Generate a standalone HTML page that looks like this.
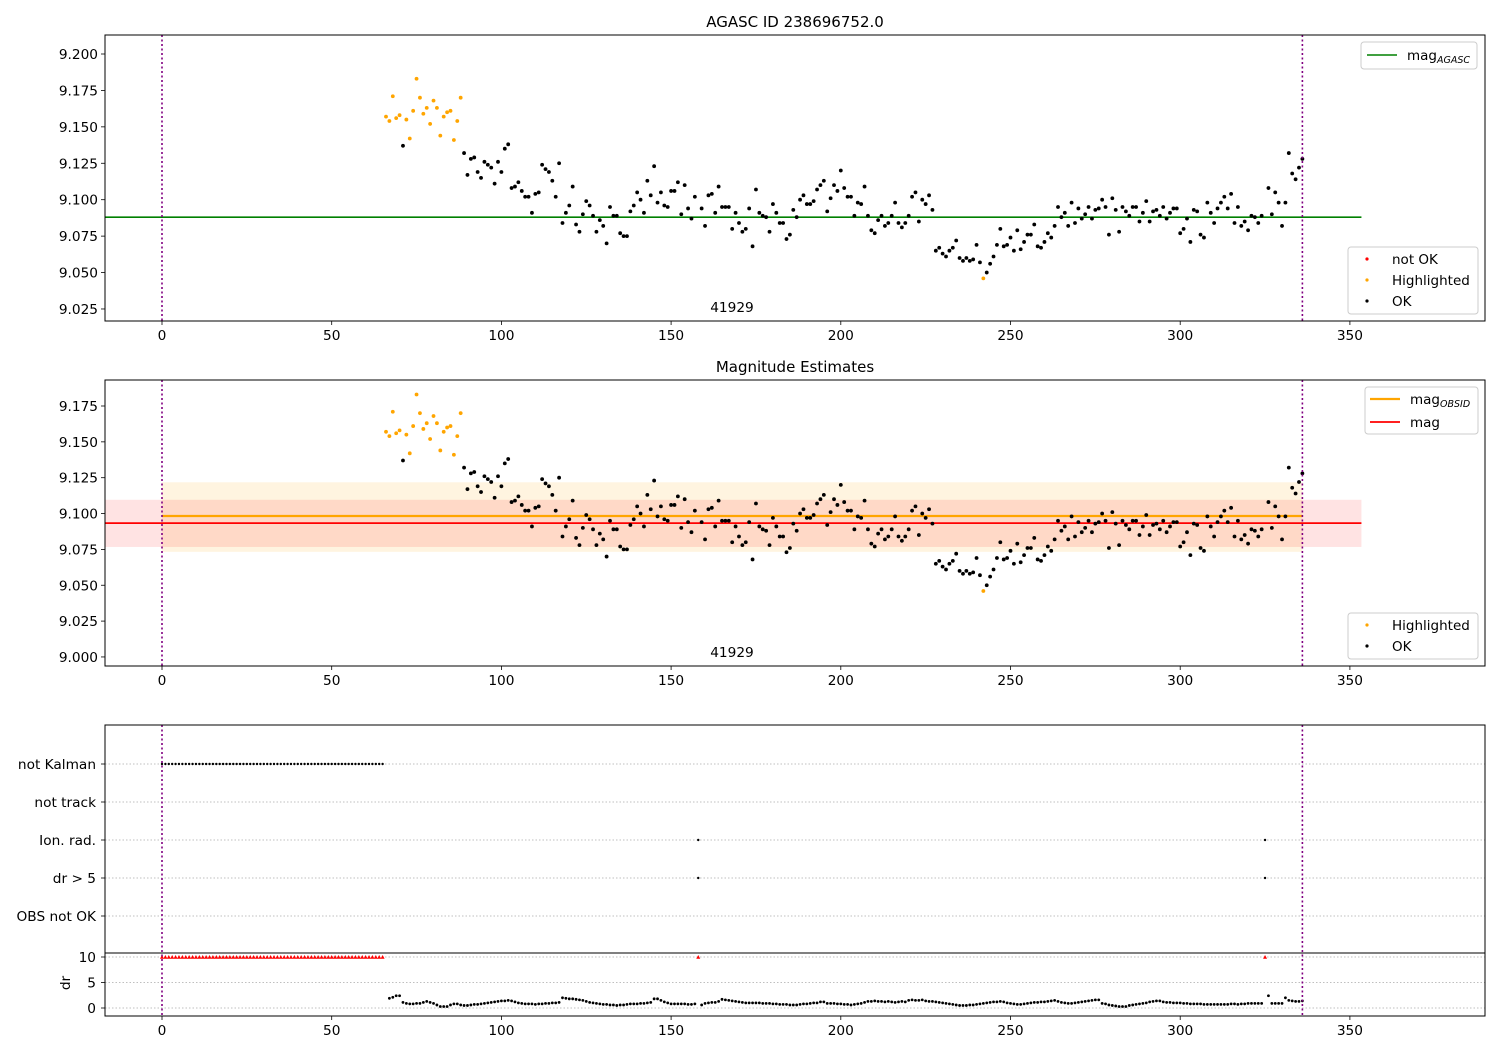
<!DOCTYPE html>
<html><head><meta charset="utf-8"><style>
body{margin:0;background:#fff}
svg{display:block;font-family:"DejaVu Sans","Liberation Sans",sans-serif}
</style></head><body>
<svg id="chart" width="1500" height="1050" viewBox="0 0 1500 1050" xmlns="http://www.w3.org/2000/svg"></svg>
<script>
// ---- data ----
const hlDays = [66,67,68,69,70,72,73,74,75,76,77,78,79,80,81,82,83,84,85,86,87,88,242];
const hlMags = [9.157,9.154,9.171,9.156,9.158,9.155,9.142,9.161,9.183,9.170,9.159,9.163,9.152,9.168,9.163,9.144,9.157,9.160,9.161,9.141,9.154,9.170,9.046];
const okFirstDay = 89;
const okExtraDays = [71];
const okExtraMags = [9.137];
const okMags = [
9.132,9.117,9.128,9.129,9.119,9.115,9.126,9.124,9.122,9.111,9.126,
9.119,9.135,9.138,9.108,9.109,9.112,9.106,9.102,9.102,9.091,
9.104,9.105,9.124,9.121,9.119,9.113,9.102,9.125,9.084,9.091,
9.096,9.109,9.083,9.078,9.090,9.099,9.096,9.089,9.078,9.086,
9.082,9.070,9.095,9.089,9.089,9.077,9.075,9.075,9.092,9.096,
9.105,9.100,9.091,9.113,9.103,9.123,9.098,9.105,9.096,9.095,
9.106,9.106,9.112,9.090,9.110,9.094,9.087,9.102,null,9.094,
9.082,9.103,9.104,9.091,9.109,9.095,9.095,9.095,9.080,9.091,
9.084,9.078,9.080,9.094,9.068,9.107,9.091,9.089,9.088,9.078,
9.097,9.091,9.084,9.084,9.073,9.076,9.093,9.088,9.100,9.103,
9.097,9.097,9.099,9.107,9.110,9.113,9.092,9.101,9.110,9.106,
9.120,9.108,9.102,9.102,9.089,9.098,9.097,9.109,9.089,9.079,
9.077,9.086,9.089,9.082,9.084,9.089,9.098,9.084,9.081,9.084,
9.089,9.102,9.105,9.085,9.100,9.097,9.103,9.093,9.065,9.067,
9.063,9.061,9.065,9.067,9.072,9.060,9.058,9.060,9.058,9.059,
9.069,9.057,null,9.050,9.056,9.061,9.069,9.080,9.068,9.069,
9.074,9.065,9.079,9.066,9.071,9.076,9.076,9.083,9.068,9.067,
9.071,9.077,9.074,9.082,9.095,9.088,9.091,9.082,9.098,9.084,
9.094,9.087,9.090,9.095,9.087,9.093,9.094,9.100,9.095,9.076,
9.101,9.093,9.078,9.095,9.092,9.089,9.095,9.095,9.085,9.091,
9.099,9.085,9.092,9.093,9.089,9.095,9.087,9.091,9.094,9.094,
9.077,9.080,9.087,9.071,9.093,9.092,9.076,9.074,9.098,9.091,
9.084,9.094,9.098,9.102,9.094,9.104,9.084,9.095,9.082,9.085,
9.079,9.089,9.088,9.084,9.089,null,9.108,9.090,9.105,9.098,
9.082,9.098,9.132,9.118,9.114,9.122,9.128];
const magAgasc = 9.088;
const magObsid = 9.0983, magObsidLo = 9.0733, magObsidHi = 9.1218;
const magMean = 9.0933, magLo = 9.0767, magHi = 9.1096;
const drFirstDay = 67;
const drVals = [
1.9,2.1,2.4,2.4,1.1,0.9,0.8,0.8,0.9,0.9,
1.1,1.3,1.1,0.9,0.6,0.3,0.3,0.3,0.6,0.8,
0.8,0.6,0.5,0.5,0.6,0.7,0.7,0.8,0.9,1.0,
1.1,1.2,1.3,1.4,1.4,1.5,1.4,1.2,1.0,0.9,
0.8,0.8,0.8,0.7,0.8,0.8,0.9,0.9,1.0,1.0,
1.1,2.0,1.9,1.8,1.8,1.7,1.6,1.5,1.3,1.1,
1.0,0.9,0.8,0.7,0.7,0.6,0.6,0.5,0.6,0.6,
0.7,0.8,0.8,0.8,0.9,0.9,1.0,1.1,1.8,1.8,
1.5,1.2,1.0,0.8,0.8,0.8,0.8,0.8,0.7,0.7,
0.8,null,0.6,0.9,1.0,1.1,1.1,1.3,1.7,1.6,
1.5,1.4,1.3,1.2,1.1,1.0,1.0,1.0,1.0,1.0,
0.9,0.9,0.9,0.8,0.8,0.7,0.7,0.7,0.6,0.6,
0.6,0.7,0.8,0.8,0.9,1.0,1.0,1.2,1.2,0.9,
0.9,0.9,0.8,0.8,0.7,0.7,0.6,0.7,0.8,0.9,
1.1,1.3,1.3,1.4,1.3,1.3,1.2,1.3,1.2,1.1,
1.2,1.3,1.2,1.5,1.6,1.5,1.5,1.6,1.4,1.3,
1.3,1.2,1.1,1.0,0.9,0.8,0.7,0.6,0.5,0.5,
0.5,0.6,0.6,0.7,0.8,0.9,1.0,1.1,1.2,1.2,
1.3,1.2,1.0,0.9,0.8,0.7,0.7,0.8,0.9,1.0,
1.1,1.1,1.2,1.2,1.3,1.4,1.5,1.3,1.1,1.0,
0.9,0.9,1.0,1.1,1.2,1.3,1.4,1.5,1.6,1.6,
0.9,0.8,0.6,0.5,0.4,0.3,0.3,0.3,0.5,0.6,
0.7,0.8,0.9,1.0,1.2,1.3,1.4,1.4,1.2,1.1,
1.1,1.0,1.0,1.0,0.9,0.9,0.8,0.8,0.8,0.8,
0.7,0.7,0.7,0.7,0.7,0.7,0.7,0.7,0.8,0.8,
0.7,0.8,0.8,0.9,0.9,0.9,0.9,0.9,null,2.4,
0.9,0.9,0.9,0.9,2.0,1.5,1.4,1.3,1.3,1.4];
const notKalmanDays = [0,1,2,3,4,5,6,7,8,9,10,11,12,13,14,15,16,17,18,19,20,21,22,23,24,25,26,27,28,29,30,31,32,33,34,35,36,37,38,39,40,41,42,43,44,45,46,47,48,49,50,51,52,53,54,55,56,57,58,59,60,61,62,63,64,65];
const ionRadDays = [158,325];
const drGt5Days = [158,325];
const drClipDays = notKalmanDays.concat([158,325]);
const drClipValue = 10;
const flagLabels = ["not Kalman","not track","Ion. rad.","dr > 5","OBS not OK"];
const xTicks = [0,50,100,150,200,250,300,350];
const y1Ticks = [9.025,9.050,9.075,9.100,9.125,9.150,9.175,9.200];
const y2Ticks = [9.000,9.025,9.050,9.075,9.100,9.125,9.150,9.175];
const drTicks = [0,5,10];
const vLines = [0,336];

// ---- scales ----
const L=105,R=1485;
const FS=13.7;
const X = d => 162 + d*3.394;
const Y1 = v => 54 + (9.2 - v)*1457;
const Y2 = v => 406 + (9.175 - v)*1434;
const YDR = v => 1008 - v*5.1;
const rowY = i => 764 + i*38;

const svg=document.getElementById('chart');
const NS='http://www.w3.org/2000/svg';
function el(tag,attrs,parent,text){const e=document.createElementNS(NS,tag);for(const k in attrs)e.setAttribute(k,attrs[k]);if(text!==undefined)e.textContent=text;(parent||svg).appendChild(e);return e;}

function okSeries(){
  const out=[];
  okExtraDays.forEach((d,i)=>out.push([d,okExtraMags[i]]));
  okMags.forEach((m,i)=>{if(m!==null)out.push([okFirstDay+i,m]);});
  return out;
}

function xAxis(bottom,g){
  xTicks.forEach(t=>{
    el('line',{x1:X(t),x2:X(t),y1:bottom,y2:bottom+4,stroke:'#000','stroke-width':0.8},g);
    const tx=el('text',{x:X(t),y:bottom+19,'text-anchor':'middle','font-size':FS},g,String(t));
    
    
  });
}
function yAxis(ticks,Y,g,fmt){
  ticks.forEach(t=>{
    el('line',{x1:L-4,x2:L,y1:Y(t),y2:Y(t),stroke:'#000','stroke-width':0.8},g);
    const tx=el('text',{x:L-7,y:Y(t)+5,'text-anchor':'end','font-size':FS},g,fmt(t));
    
    
  });
}
function vlines(top,bottom,g){
  vLines.forEach(d=>el('line',{x1:X(d),x2:X(d),y1:top,y2:bottom,stroke:'#800080','stroke-width':1.6,'stroke-dasharray':'2,2.5'},g));
}
function dot(x,y,c,g,r){el('circle',{cx:x,cy:y,r:r||1.9,fill:c},g);}

// ---- panel 1 ----
(function(){
  const g=el('g',{});
  
  
  const t=el('text',{x:795,y:27,'text-anchor':'middle','font-size':15},g,'AGASC ID 238696752.0');
  
  
  el('line',{x1:L,x2:X(353.4),y1:Y1(magAgasc),y2:Y1(magAgasc),stroke:'#008000','stroke-width':1.6},g);
  hlDays.forEach((d,i)=>dot(X(d),Y1(hlMags[i]),'#ffa500',g));
  okSeries().forEach(p=>dot(X(p[0]),Y1(p[1]),'#000',g));
  vlines(35,321,g);
  el('text',{x:732,y:312,'text-anchor':'middle','font-size':FS},g,'41929');
  el('rect',{x:L,y:35,width:R-L,height:286,fill:'none',stroke:'#000','stroke-width':1},g);
  xAxis(321,g); yAxis(y1Ticks,Y1,g,v=>v.toFixed(3));
  const lg=el('g',{},g);
  
  
  el('rect',{x:1361,y:42,width:116,height:27,rx:3,fill:'#fff',stroke:'#ccc'},lg);
  el('line',{x1:1367,x2:1397,y1:55,y2:55,stroke:'#008000','stroke-width':1.6},lg);
  const tt=el('text',{x:1407,y:60,'font-size':13.5},lg,'mag');
  el('tspan',{'font-size':9.5,'font-style':'italic',dy:3},tt,'AGASC');
  const lg2=el('g',{},g);
  
  
  el('rect',{x:1348,y:247,width:130,height:67,rx:3,fill:'#fff',stroke:'#ccc'},lg2);
  [['not OK','#ff0000',259],['Highlighted','#ffa500',280],['OK','#000',301]].forEach(e=>{
    dot(1367,e[2],e[1],lg2,1.6);
    el('text',{x:1392,y:e[2]+5,'font-size':13.5},lg2,e[0]);
  });
})();

// ---- panel 2 ----
(function(){
  const g=el('g',{});
  
  
  const t=el('text',{x:795,y:372,'text-anchor':'middle','font-size':15},g,'Magnitude Estimates');
  
  
  el('rect',{x:X(0),y:Y2(magObsidHi),width:X(336)-X(0),height:Y2(magObsidLo)-Y2(magObsidHi),fill:'#ffa500','fill-opacity':0.12},g);
  el('rect',{x:L,y:Y2(magHi),width:X(353.4)-L,height:Y2(magLo)-Y2(magHi),fill:'#ff0000','fill-opacity':0.11},g);
  el('line',{x1:X(0),x2:X(336),y1:Y2(magObsid),y2:Y2(magObsid),stroke:'#ffa500','stroke-width':2.2},g);
  el('line',{x1:L,x2:X(353.4),y1:Y2(magMean),y2:Y2(magMean),stroke:'#ff0000','stroke-width':1.8},g);
  hlDays.forEach((d,i)=>dot(X(d),Y2(hlMags[i]),'#ffa500',g));
  okSeries().forEach(p=>dot(X(p[0]),Y2(p[1]),'#000',g));
  vlines(380,666,g);
  el('text',{x:732,y:657,'text-anchor':'middle','font-size':FS},g,'41929');
  el('rect',{x:L,y:380,width:R-L,height:286,fill:'none',stroke:'#000','stroke-width':1},g);
  xAxis(666,g); yAxis(y2Ticks,Y2,g,v=>v.toFixed(3));
  const lg=el('g',{},g);
  
  
  el('rect',{x:1365,y:387,width:113,height:47,rx:3,fill:'#fff',stroke:'#ccc'},lg);
  el('line',{x1:1370,x2:1400,y1:399,y2:399,stroke:'#ffa500','stroke-width':2.2},lg);
  const tt=el('text',{x:1410,y:404,'font-size':13.5},lg,'mag');
  el('tspan',{'font-size':9.5,'font-style':'italic',dy:3},tt,'OBSID');
  el('line',{x1:1370,x2:1400,y1:422,y2:422,stroke:'#ff0000','stroke-width':1.8},lg);
  el('text',{x:1410,y:427,'font-size':13.5},lg,'mag');
  const lg2=el('g',{},g);
  
  
  el('rect',{x:1348,y:613,width:130,height:46,rx:3,fill:'#fff',stroke:'#ccc'},lg2);
  [['Highlighted','#ffa500',625],['OK','#000',646]].forEach(e=>{
    dot(1367,e[2],e[1],lg2,1.6);
    el('text',{x:1392,y:e[2]+5,'font-size':13.5},lg2,e[0]);
  });
})();

// ---- panel 3 ----
(function(){
  const g=el('g',{});
  
  
  flagLabels.forEach((lab,i)=>{
    el('line',{x1:L,x2:R,y1:rowY(i),y2:rowY(i),stroke:'#aaa','stroke-width':0.8,'stroke-dasharray':'1.5,2'},g);
    el('line',{x1:L-4,x2:L,y1:rowY(i),y2:rowY(i),stroke:'#000','stroke-width':0.8},g);
    const tx=el('text',{x:L-9,y:rowY(i)+5,'text-anchor':'end','font-size':FS},g,lab);
    
    
  });
  drTicks.forEach(t=>{
    el('line',{x1:L,x2:R,y1:YDR(t),y2:YDR(t),stroke:'#aaa','stroke-width':0.8,'stroke-dasharray':'1.5,2'},g);
    el('line',{x1:L-4,x2:L,y1:YDR(t),y2:YDR(t),stroke:'#000','stroke-width':0.8},g);
    el('text',{x:L-9,y:YDR(t)+5,'text-anchor':'end','font-size':FS},g,String(t));
  });
  const yl=el('text',{x:70,y:983,'text-anchor':'middle','font-size':FS,transform:'rotate(-90 70 983)'},g,'dr');
  
  
  notKalmanDays.forEach(d=>dot(X(d),rowY(0),'#000',g,1.2));
  ionRadDays.forEach(d=>dot(X(d),rowY(2),'#000',g,1.2));
  drGt5Days.forEach(d=>dot(X(d),rowY(3),'#000',g,1.2));
  drClipDays.forEach(d=>{const x=X(d),y=YDR(drClipValue);el('path',{d:`M${x-2},${y+1.7} L${x+2},${y+1.7} L${x},${y-2} Z`,fill:'#ff0000'},g);});
  drVals.forEach((v,i)=>{if(v!==null)dot(X(drFirstDay+i),YDR(v),'#000',g,1.4);});
  vlines(725,1016,g);
  el('line',{x1:L,x2:R,y1:953,y2:953,stroke:'#000','stroke-width':1},g);
  el('rect',{x:L,y:725,width:R-L,height:291,fill:'none',stroke:'#000','stroke-width':1},g);
  xAxis(1016,g);
})();
</script>
</body></html>
